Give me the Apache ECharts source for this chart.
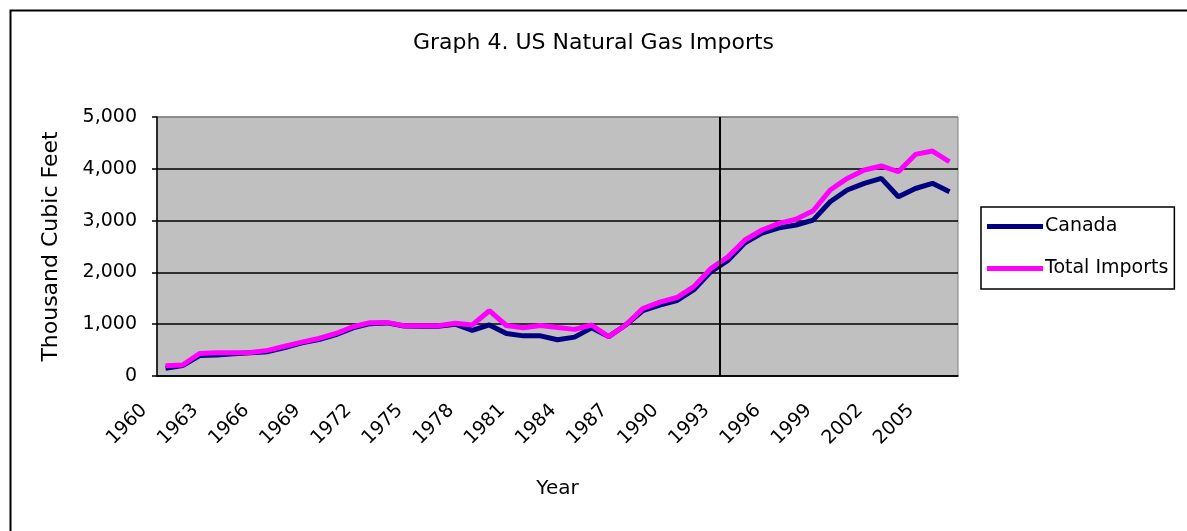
<!DOCTYPE html>
<html>
<head>
	<meta charset="utf-8">
	<title>Graph 4. US Natural Gas Imports</title>
	<script src="https://cdn.jsdelivr.net/npm/echarts@6/dist/echarts.min.js"></script>
	<style>
		html, body { margin: 0; padding: 0; background: #fff; }
	</style>
</head>
<body>
<div id="main" style="width: 1187px;height:531px;"></div>
<script type="text/javascript">
	// data
	var years = ['1960','1961','1962','1963','1964','1965','1966','1967','1968','1969',
		'1970','1971','1972','1973','1974','1975','1976','1977','1978','1979',
		'1980','1981','1982','1983','1984','1985','1986','1987','1988','1989',
		'1990','1991','1992','1993','1994','1995','1996','1997','1998','1999',
		'2000','2001','2002','2003','2004','2005','2006'];
	var canada = [150, 200, 395, 405, 430, 450, 470, 550, 640, 705,
		800, 930, 1010, 1025, 965, 960, 960, 1000, 880, 985,
		820, 775, 775, 700, 750, 930, 760, 984, 1260, 1370,
		1455, 1665, 2015, 2230, 2570, 2760, 2860, 2915, 3010, 3365,
		3590, 3720, 3815, 3460, 3620, 3720, 3555];
	var totalImports = [200, 212, 435, 448, 450, 455, 495, 575, 655, 725,
		820, 950, 1030, 1035, 970, 968, 970, 1020, 985, 1260,
		975, 930, 975, 935, 900, 985, 760, 984, 1300, 1425,
		1515, 1725, 2075, 2300, 2625, 2818, 2947, 3025, 3190, 3590,
		3815, 3976, 4055, 3943, 4278, 4343, 4136];
	// vertical divider sits between 1992 and 1993
	var dividerYear = 1992.5;

	var font = 'DejaVu Sans';
	var myChart = echarts.init(document.getElementById('main'));

	// trailing gap so the slanted year labels sit down-left of their tick, like Excel
	var labelTail = '\u00a0\u00a0\u00a0\u00a0\u00a0';

	var option = {
		animation: false,
		backgroundColor: '#fff',
		textStyle: { fontFamily: font, color: '#000' },
		graphic: [{
			type: 'rect',
			left: 8, top: 8,
			shape: { width: 1200, height: 540 },
			style: { fill: 'none', stroke: '#000', lineWidth: 2 },
			silent: true
		}],
		title: {
			text: 'Graph 4. US Natural Gas Imports',
			left: 'center',
			top: 27,
			textStyle: { fontFamily: font, fontSize: 22, fontWeight: 'normal', color: '#000' }
		},
		legend: {
			orient: 'vertical',
			left: 981,
			top: 207,
			padding: [10, 6, 11, 6],
			itemGap: 23,
			itemWidth: 56,
			itemHeight: 5,
			icon: 'rect',
			borderColor: '#000',
			borderWidth: 1.5,
			textStyle: { fontFamily: font, fontSize: 19, color: '#000', padding: [0, 0, 0, -3] },
			data: ['Canada', 'Total Imports']
		},
		grid: {
			left: 157, right: 229, top: 117, bottom: 155,
			show: true,
			backgroundColor: '#c0c0c0',
			borderColor: '#808080',
			borderWidth: 1
		},
		xAxis: [{
			type: 'category',
			data: years,
			boundaryGap: true,
			name: 'Year',
			nameLocation: 'middle',
			nameGap: 103,
			nameTextStyle: { fontFamily: font, fontSize: 20, color: '#000' },
			axisLine: { lineStyle: { color: '#000', width: 1.5 } },
			axisTick: { interval: 0, length: 5, lineStyle: { color: '#000', width: 1.5 } },
			axisLabel: {
				interval: 2, rotate: 45, fontSize: 19, color: '#000', margin: 10, fontFamily: font,
				formatter: function (v) { return v + labelTail; }
			},
			splitLine: { show: false }
		}, {
			type: 'value',
			min: 1959.5,
			max: 2006.5,
			show: false
		}],
		yAxis: {
			type: 'value',
			min: 0,
			max: 5000,
			interval: 1000,
			name: 'Thousand Cubic Feet',
			nameLocation: 'middle',
			nameGap: 95,
			nameTextStyle: { fontFamily: font, fontSize: 22, color: '#000' },
			axisLine: { show: true, lineStyle: { color: '#000', width: 1.5 } },
			axisTick: { show: true, length: 5, lineStyle: { color: '#000', width: 1.5 } },
			axisLabel: {
				fontSize: 19, color: '#000', margin: 20, fontFamily: font,
				formatter: function (v) { return v.toLocaleString('en-US'); }
			},
			splitLine: { lineStyle: { color: ['#000', '#000', '#000', '#000', '#000', '#808080'], width: 1.5 } }
		},
		series: [{
			name: 'Canada',
			type: 'line',
			data: canada,
			showSymbol: false,
			symbol: 'none',
			lineStyle: { color: '#000080', width: 5 },
			itemStyle: { color: '#000080' }
		}, {
			name: 'Total Imports',
			type: 'line',
			data: totalImports,
			showSymbol: false,
			symbol: 'none',
			lineStyle: { color: '#ff00ff', width: 5 },
			itemStyle: { color: '#ff00ff' }
		}, {
			name: 'divider',
			type: 'line',
			xAxisIndex: 1,
			data: [],
			silent: true,
			markLine: {
				silent: true,
				symbol: 'none',
				label: { show: false },
				lineStyle: { color: '#000', width: 2, type: 'solid' },
				data: [{ xAxis: dividerYear }]
			}
		}]
	};

	myChart.setOption(option);
</script>
</body>
</html>
